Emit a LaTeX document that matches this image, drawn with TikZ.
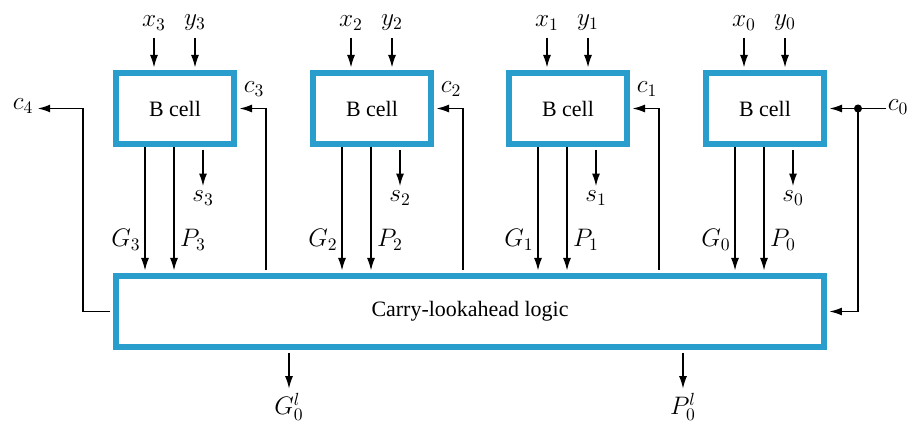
\documentclass[tikz,border=0pt]{standalone}
\usepackage{fontspec}
\setmainfont{Liberation Serif}
\usepackage{tikz}
\usetikzlibrary{arrows.meta, positioning, calc}
\definecolor{cellblue}{RGB}{41,157,203}

\begin{document}
\begin{tikzpicture}[x=0.02cm, y=-0.02cm, font=\fontsize{12.5}{15}\selectfont,
  cell/.style={draw=cellblue, line width=3.2pt, minimum width=2.37cm, minimum height=1.43cm, inner sep=0pt},
  wire/.style={line width=0.8pt},
  arr/.style={wire, -{Latex[length=2.5mm, width=1.6mm]}, shorten >=1.4pt},
  lbl/.style={inner sep=1pt, font=\fontsize{14}{16}\selectfont}]
  \useasboundingbox (0,0) rectangle (913,426);

  % Carry-lookahead logic
  \node[cell, minimum width=14.17cm] (cla) at (470,311.5) {Carry-lookahead logic};

  % B cells with inputs, sums, G and P
  \foreach \i/\cx in {3/175, 2/372, 1/568, 0/765} {
    \node[cell] (b\i) at (\cx,108.5) {B cell};
    \node[lbl] (x\i) at (\cx-21,23) {$x_\i$};
    \node[lbl] (y\i) at (\cx+20,23) {$y_\i$};
    \draw[arr, shorten <=3pt] (x\i) -- (x\i |- b\i.north);
    \draw[arr, shorten <=3pt] (y\i) -- (y\i |- b\i.north);
    \node[lbl] (s\i) at (\cx+28,198) {$s_\i$};
    \draw[arr, shorten <=1.6pt] (s\i |- b\i.south) -- (s\i);
    \coordinate (g\i) at (\cx-30,144.5);
    \coordinate (p\i) at (\cx-1,144.5);
    \draw[arr, shorten <=1.6pt] (g\i) -- (g\i |- cla.north);
    \draw[arr, shorten <=1.6pt] (p\i) -- (p\i |- cla.north);
    \node[lbl] (G\i) at (\cx-49,240) {$G_\i$};
    \node[lbl] (P\i) at (\cx+18,240) {$P_\i$};
  }

  % Carries from the lookahead logic
  \foreach \i/\cx in {3/175, 2/372, 1/568} {
    \coordinate (cc\i) at (\cx+91,108.5);
    \draw[arr, shorten <=1.6pt] (cla.north -| cc\i) |- (b\i.east);
    \node[lbl] (c\i) at (\cx+79,89) {$c_\i$};
  }

  % Carry out
  \coordinate (c4turn) at (83,108.5);
  \node[lbl] (c4) at (23,106) {$c_4$};
  \draw[arr, shorten <=1.6pt] (cla.west) -| (c4turn) -- (c4.east |- c4turn);

  % Carry in
  \node[lbl] (c0) at (898,107) {$c_0$};
  \coordinate (c0dot) at (858,108.5);
  \draw[arr] (c0.west |- c0dot) -- (b0.east);
  \draw[arr] (c0dot) |- (cla.east);
  \fill (c0dot) circle (2.3pt);

  % Group outputs
  \node[lbl] (G0l) at (289,407) {$G_0^l$};
  \node[lbl] (P0l) at (683,407) {$P_0^l$};
  \draw[arr, shorten <=1.6pt] (G0l |- cla.south) -- (G0l);
  \draw[arr, shorten <=1.6pt] (P0l |- cla.south) -- (P0l);
\end{tikzpicture}
\end{document}
